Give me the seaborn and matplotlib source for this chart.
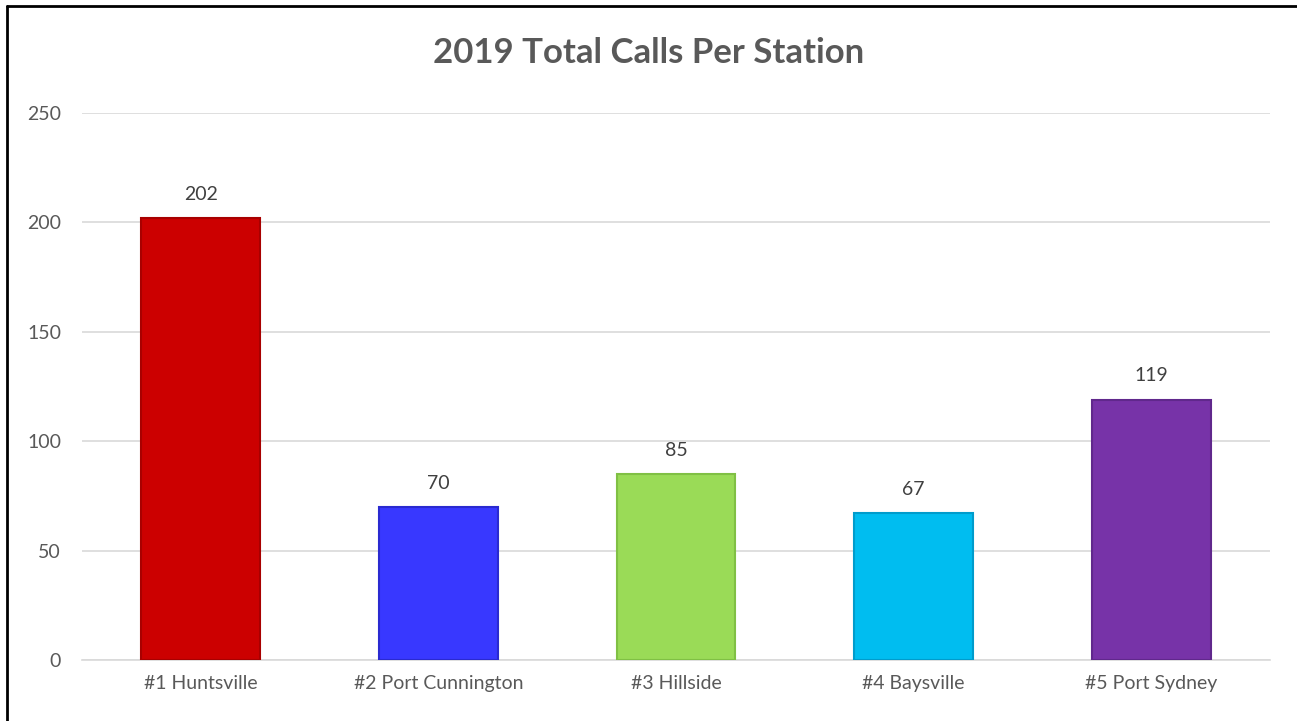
import matplotlib
matplotlib.use("Agg")
import matplotlib.pyplot as plt
from matplotlib.lines import Line2D
import seaborn as sns
import pandas as pd

# Chart data
stations = ["#1 Huntsville", "#2 Port Cunnington", "#3 Hillside", "#4 Baysville", "#5 Port Sydney"]
calls = [202, 70, 85, 67, 119]
bar_colors = ["#CC0000", "#3838FF", "#9ADB57", "#00BDF0", "#7733A8"]
edge_colors = ["#A80000", "#2A2AD0", "#80C044", "#009CCC", "#60288C"]
y_ticks = [0, 50, 100, 150, 200, 250]

df = pd.DataFrame({"station": stations, "calls": calls})

sns.set_style("white")
plt.rcParams["font.family"] = ["Lato", "DejaVu Sans"]

fig = plt.figure(figsize=(12.97, 7.21), dpi=100)
ax = fig.add_axes([82 / 1297, 1 - 660 / 721, (1270 - 82) / 1297, (660 - 113) / 721])

sns.barplot(data=df, x="station", y="calls", hue="station", palette=bar_colors,
            width=0.5, saturation=1, legend=False, ax=ax, zorder=3)

for patch, ec in zip(ax.patches, edge_colors):
    patch.set_edgecolor(ec)
    patch.set_linewidth(1.5)

# Value labels
for i, v in enumerate(calls):
    ax.text(i, v + 7, str(v), ha="center", va="bottom", fontsize=14, color="#404040")

ax.set_xlim(-0.5, 4.5)
ax.set_ylim(0, 250)
ax.set_yticks(y_ticks)
ax.yaxis.grid(True, color="#D9D9D9", linewidth=1.2, zorder=0)
ax.set_axisbelow(True)
for side in ["top", "right", "left"]:
    ax.spines[side].set_visible(False)
ax.spines["bottom"].set_color("#D9D9D9")
ax.spines["bottom"].set_linewidth(1.2)
ax.tick_params(axis="both", length=0, labelsize=14, labelcolor="#595959")
ax.tick_params(axis="y", pad=15)
ax.tick_params(axis="x", pad=11)
ax.set_xlabel("")
ax.set_ylabel("")

fig.suptitle("2019 Total Calls Per Station", y=1 - 53 / 721, va="center",
             fontsize=25, fontweight="bold", color="#595959")

# Outer frame (top and left edges visible)
fig.add_artist(Line2D([7 / 1297, 1], [1 - 6 / 721, 1 - 6 / 721], color="black", linewidth=2))
fig.add_artist(Line2D([7 / 1297, 7 / 1297], [0, 1 - 6 / 721], color="black", linewidth=2))

fig.savefig("out.png", dpi=100)
plt.close(fig)
